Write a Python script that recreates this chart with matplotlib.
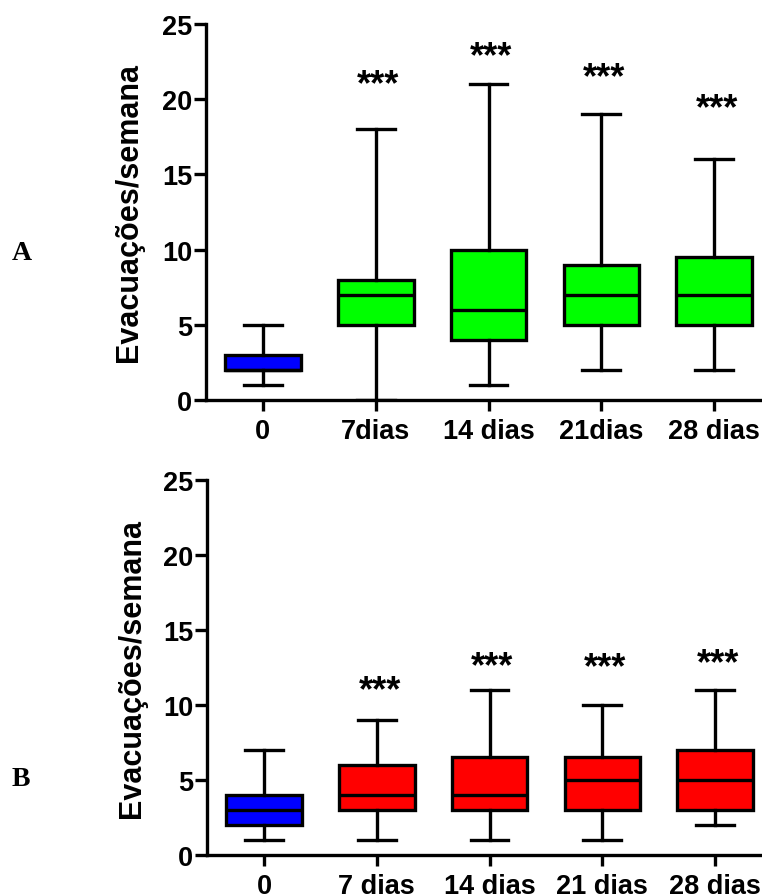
import matplotlib
matplotlib.use('Agg')
import matplotlib.pyplot as plt

plt.rcParams['font.family'] = ['Liberation Sans', 'DejaVu Sans']
plt.rcParams['font.weight'] = 'bold'

# panel A
labels_a = ['0', '7dias', '14 dias', '21dias', '28 dias']
whislo_a = [1, 0, 1, 2, 2]
q1_a = [2, 5, 4, 5, 5]
med_a = [2, 7, 6, 7, 7]
q3_a = [3, 8, 10, 9, 9.5]
whishi_a = [5, 18, 21, 19, 16]
stars_a = [None, 21.7, 23.55, 22.15, 20.1]
colors_a = ['#0000ff', '#00ff00', '#00ff00', '#00ff00', '#00ff00']

# panel B
labels_b = ['0', '7 dias', '14 dias', '21 dias', '28 dias']
whislo_b = [1, 1, 1, 1, 2]
q1_b = [2, 3, 3, 3, 3]
med_b = [3, 4, 4, 5, 5]
q3_b = [4, 6, 6.5, 6.5, 7]
whishi_b = [7, 9, 11, 10, 11]
stars_b = [None, 11.7, 13.3, 13.25, 13.5]
colors_b = ['#0000ff', '#ff0000', '#ff0000', '#ff0000', '#ff0000']

LW = 2.4
STAR_FS = 26


def panel(ax, labels, lo, q1, med, q3, hi, stars, colors, ylab_x):
    stats = []
    for i in range(len(labels)):
        stats.append({'whislo': lo[i], 'q1': q1[i], 'med': med[i],
                      'q3': q3[i], 'whishi': hi[i], 'label': labels[i]})
    pos = list(range(len(labels)))
    bp = ax.bxp(stats, positions=pos, widths=0.67, patch_artist=True,
                showfliers=False,
                boxprops={'linewidth': LW, 'edgecolor': 'black'},
                whiskerprops={'linewidth': LW, 'color': 'black'},
                capprops={'linewidth': LW, 'color': 'black'},
                medianprops={'linewidth': LW, 'color': 'black'})
    for patch, c in zip(bp['boxes'], colors):
        patch.set_facecolor(c)
    # significance marks, y given at the centre of the asterisks
    for p, s in zip(pos, stars):
        if s is None:
            continue
        ax.annotate('***', xy=(p, s), xytext=(2, -0.575 * STAR_FS),
                    textcoords='offset points', ha='center', va='baseline',
                    fontsize=STAR_FS, fontweight='bold')

    ax.set_xlim(-0.505, 4.42)
    ax.set_ylim(0, 25)
    ax.set_yticks([0, 5, 10, 15, 20, 25])
    ax.set_xticks(pos)
    ax.set_xticklabels(labels)
    ax.spines['top'].set_visible(False)
    ax.spines['right'].set_visible(False)
    ax.spines['left'].set_linewidth(LW)
    ax.spines['bottom'].set_linewidth(LW)
    ax.tick_params(axis='y', length=8.4, width=LW, labelsize=19.5, pad=1.5)
    ax.tick_params(axis='x', length=8, width=LW, labelsize=19.5, pad=5)
    ax.set_ylabel('Evacuações/semana', fontsize=22, fontweight='bold')
    ax.yaxis.set_label_coords(ylab_x, 0.5)


fig = plt.figure(figsize=(7.62, 8.95), dpi=100)
ax_a = fig.add_axes([0.2703, 0.552, 0.729, 0.4201])
ax_b = fig.add_axes([0.2717, 0.0439, 0.729, 0.4187])

panel(ax_a, labels_a, whislo_a, q1_a, med_a, q3_a, whishi_a, stars_a,
      colors_a, -0.112)
panel(ax_b, labels_b, whislo_b, q1_b, med_b, q3_b, whishi_b, stars_b,
      colors_b, -0.108)

fig.text(22 / 762, 1 - 253 / 895, 'A', ha='center', va='center',
         fontsize=20, fontweight='bold', family='Liberation Serif')
fig.text(21 / 762, 1 - 780 / 895, 'B', ha='center', va='center',
         fontsize=20, fontweight='bold', family='Liberation Serif')

fig.savefig('out.png', dpi=100)
